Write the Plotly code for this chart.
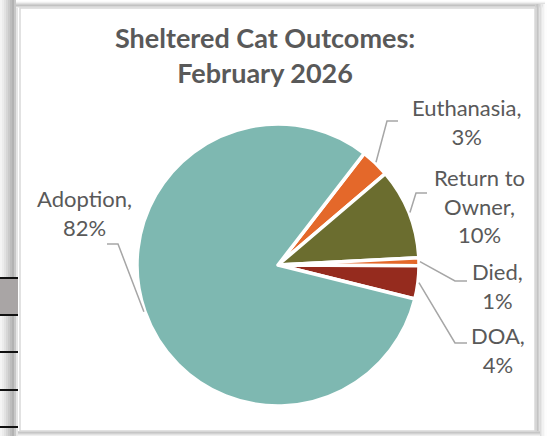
import math
import plotly.graph_objects as go

# ---- data ----
categories = ["Euthanasia", "Return to Owner", "Died", "DOA", "Adoption"]
values = [3.3, 10.4, 0.9, 3.8, 81.6]
colors = ["#E4682A", "#6B6D2F", "#E4682A", "#952B1E", "#7EB8B1"]
label_texts = ["Euthanasia,", "Return to<br>Owner,", "Died,", "DOA,", "Adoption,"]

W, H = 547, 436
CX, CY, R = 278, 265, 141
ROT = 37.7


def px(x):
    return x / W


def py(y):
    return 1 - y / H


fig = go.Figure()
fig.add_trace(go.Pie(
    labels=categories, values=values, sort=False, direction="clockwise",
    rotation=ROT, textinfo="none", hoverinfo="label+percent",
    marker=dict(colors=colors, line=dict(color="white", width=3.5)),
    domain=dict(x=[px(CX - R), px(CX + R)], y=[py(CY + R), py(CY - R)]),
    showlegend=False,
))

shapes = []
annotations = []

# ---- sheet/frame decoration ----
left_grays = ["#f4f4f4", "#ececec", "#e2e2e2", "#d6d6d6", "#cacaca", "#bdbdbd", "#b2b2b2", "#c8c8c8", "#e6e6e6"]
for i, c in enumerate(left_grays):
    shapes.append(dict(type="rect", xref="paper", yref="paper", x0=px(i * 2), x1=px(i * 2 + 2),
                       y0=0, y1=1, fillcolor=c, line=dict(width=0), layer="below"))
shapes.append(dict(type="rect", xref="paper", yref="paper", x0=0, x1=px(18), y0=py(315), y1=py(278),
                   fillcolor="#a9a5a5", line=dict(width=0), layer="below"))
for yy in [278, 315, 352, 390, 427]:
    shapes.append(dict(type="line", xref="paper", yref="paper", x0=0, x1=px(18), y0=py(yy), y1=py(yy),
                       line=dict(color="#111111", width=2)))
top_grays = ["#ffffff", "#fbfbfb", "#f0f0f0", "#e0e0e0", "#cfcfcf", "#c2c2c2", "#d6d6d6", "#ededed"]
for i, c in enumerate(top_grays):
    shapes.append(dict(type="rect", xref="paper", yref="paper", x0=px(16), x1=px(547 - 2),
                       y0=py(i + 1), y1=py(i), fillcolor=c, line=dict(width=0), layer="below"))
right_grays = ["#d0d0d0", "#c4c4c4", "#cfcfcf", "#dcdcdc", "#e8e8e8", "#f2f2f2", "#f9f9f9", "#fdfdfd"]
for i, c in enumerate(right_grays):
    shapes.append(dict(type="rect", xref="paper", yref="paper", x0=px(535 + i * 1.5), x1=px(536.5 + i * 1.5),
                       y0=0, y1=py(4), fillcolor=c, line=dict(width=0), layer="below"))
bottom_grays = ["#d2d2d2", "#c6c6c6", "#d2d2d2", "#e2e2e2", "#efefef"]
for i, c in enumerate(bottom_grays):
    shapes.append(dict(type="rect", xref="paper", yref="paper", x0=px(18), x1=px(540),
                       y0=py(431 + i + 1), y1=py(431 + i), fillcolor=c, line=dict(width=0), layer="below"))
shapes.append(dict(type="rect", xref="paper", yref="paper", x0=px(20), x1=px(535), y0=py(431), y1=py(8),
                   fillcolor="white", line=dict(color="#d9d9d9", width=1.5), layer="below"))

# ---- title ----
annotations.append(dict(text="<b>Sheltered Cat Outcomes:<br>February 2026</b>", xref="paper", yref="paper",
                        x=px(265), y=py(55), xanchor="center", yanchor="middle", showarrow=False,
                        font=dict(family="Lato", size=27, color="#595959")))

# ---- labels with leader lines ----
label_centers = [(467, 122), (479, 206), (497, 286), (498, 350), (84, 213)]
elbows = [[(387, 121), (398, 121)], [(416, 193), (427, 193)], [(455, 281), (467, 281)],
          [(455, 343), (467, 343)], [(118, 244), (107, 244)]]
total = sum(values)
start = ROT
for i, v in enumerate(values):
    sweep = v / total * 360
    mid = math.radians(start + sweep / 2)
    start += sweep
    sx, sy = CX + (R + 1) * math.sin(mid), CY - (R + 1) * math.cos(mid)
    pts = [(sx, sy)] + elbows[i]
    path = "M " + " L ".join(f"{px(x)},{py(y)}" for x, y in pts)
    shapes.append(dict(type="path", xref="paper", yref="paper", path=path,
                       line=dict(color="#A6A6A6", width=1.5)))
    pct = round(v / total * 100)
    lx, ly = label_centers[i]
    annotations.append(dict(text=f"{label_texts[i]}<br>{pct}%", xref="paper", yref="paper",
                            x=px(lx), y=py(ly), xanchor="center", yanchor="middle", showarrow=False,
                            align="center", font=dict(family="Lato", size=22, color="#595959")))

fig.update_layout(width=W, height=H, margin=dict(l=0, r=0, t=0, b=0),
                  paper_bgcolor="white", plot_bgcolor="white",
                  shapes=shapes, annotations=annotations)
fig.write_html("out.html", config={"displayModeBar": False},
               post_script="document.body.style.margin='0px';")
